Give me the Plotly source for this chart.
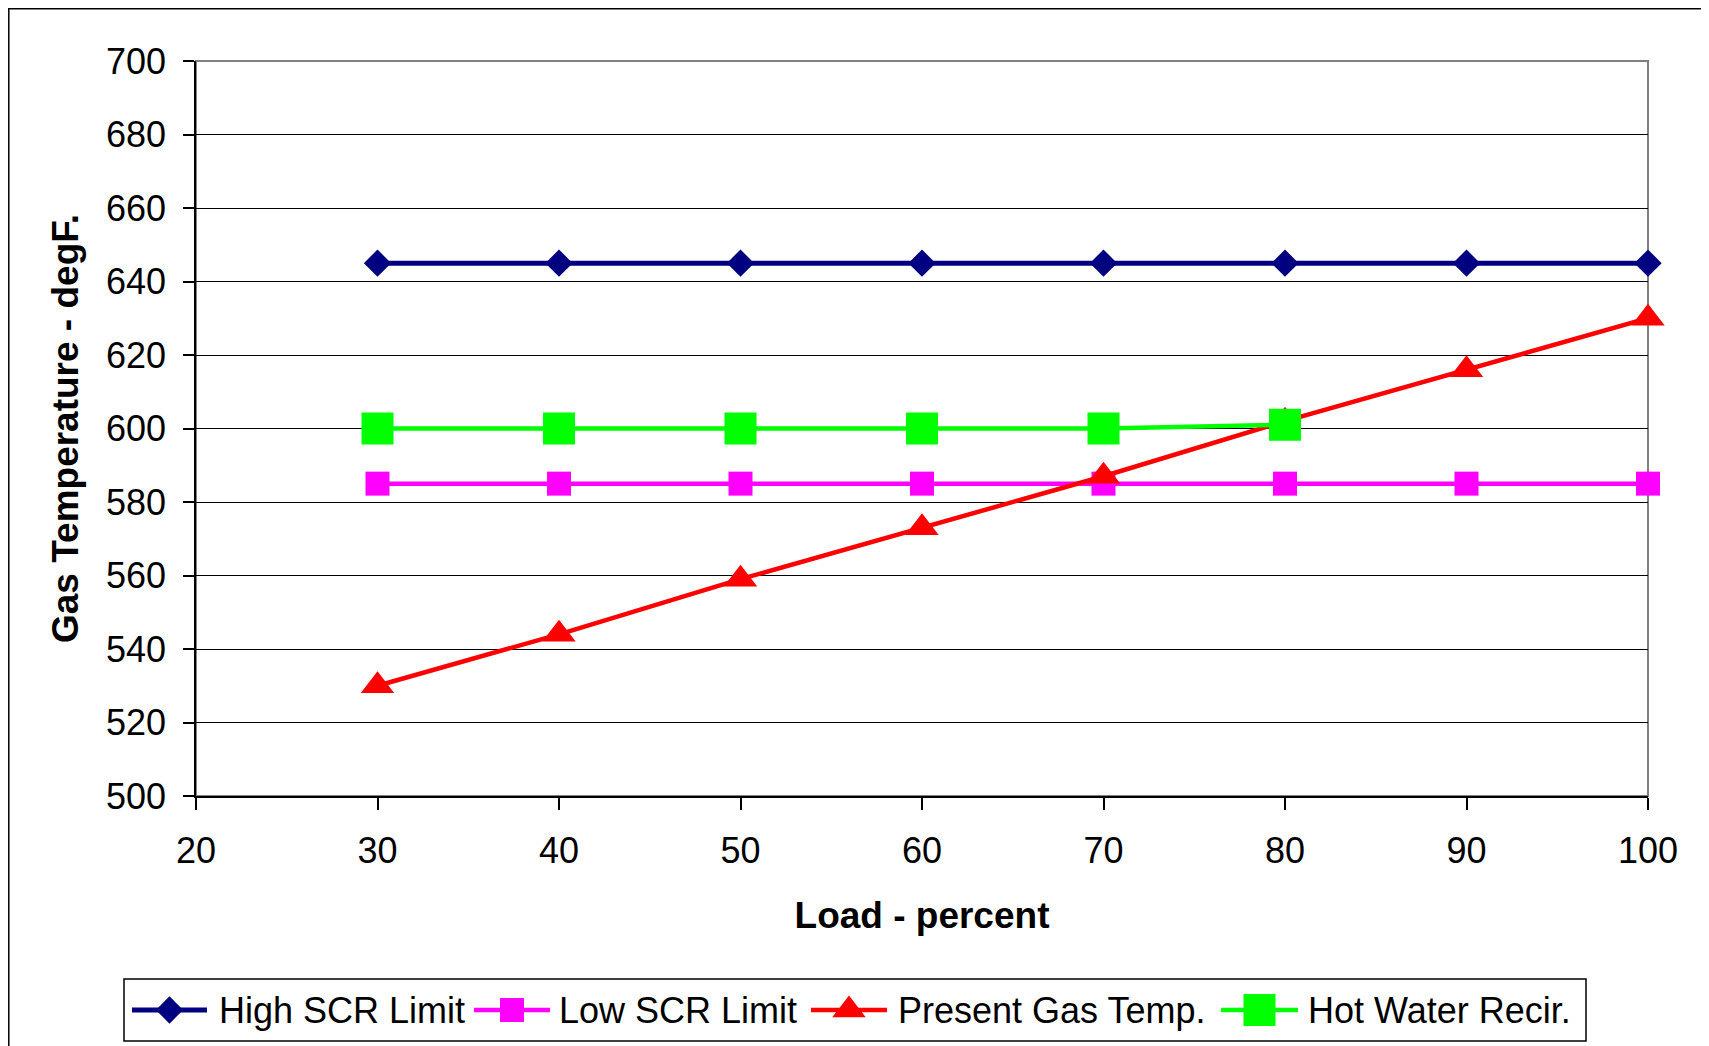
import plotly.graph_objects as go

load = [30, 40, 50, 60, 70, 80, 90, 100]
high_scr = [645, 645, 645, 645, 645, 645, 645, 645]
low_scr = [585, 585, 585, 585, 585, 585, 585, 585]
present_gas = [530, 544, 559, 573, 587, 602, 616, 630]
hw_load = [30, 40, 50, 60, 70, 80]
hot_water = [600, 600, 600, 600, 600, 601]

series_names = ["High SCR Limit", "Low SCR Limit", "Present Gas Temp.", "Hot Water Recir."]
x_ticks = [20, 30, 40, 50, 60, 70, 80, 90, 100]
y_ticks = [500, 520, 540, 560, 580, 600, 620, 640, 660, 680, 700]

FONT = "Liberation Sans, Arial, sans-serif"
W, H = 1701, 1038

styles = [
    dict(color="#000080", symbol="diamond", size=21, lw=5),
    dict(color="#FF00FF", symbol="square", size=24, lw=4.5),
    dict(color="#FF0000", symbol="triangle-up", size=29, lw=4.5),
    dict(color="#00FF00", symbol="square", size=32, lw=4.5),
]
xs = [load, load, load, hw_load]
ys = [high_scr, low_scr, present_gas, hot_water]

fig = go.Figure()
for name, st, x, y in zip(series_names, styles, xs, ys):
    fig.add_trace(go.Scatter(x=x, y=y, name=name, mode="lines+markers",
                             line=dict(color=st["color"], width=st["lw"]),
                             marker=dict(symbol=st["symbol"], size=st["size"], color=st["color"],
                                         opacity=1, line=dict(width=0)),
                             cliponaxis=False, showlegend=False))

# custom legend (drawn on a helper axis in figure pixels)
LEG_DOM = 0.1
leg_h = H * LEG_DOM
leg_y = H - 1002
sym_x = [(124, 199), (466, 542), (803, 879), (1213, 1290)]
txt_x = [209, 549, 888, 1298]
for name, st, (a, b), tx in zip(series_names, styles, sym_x, txt_x):
    fig.add_trace(go.Scatter(x=[a, (a + b) / 2, b], y=[leg_y] * 3, mode="lines+markers",
                             xaxis="x2", yaxis="y2", showlegend=False, hoverinfo="skip",
                             line=dict(color=st["color"], width=st["lw"]),
                             marker=dict(symbol=st["symbol"], size=[0, st["size"], 0],
                                         color=st["color"], opacity=1, line=dict(width=0)),
                             cliponaxis=False))
    fig.add_annotation(x=tx, y=leg_y, xref="x2", yref="y2", text=name, showarrow=False,
                       xanchor="left", yanchor="middle",
                       font=dict(family=FONT, size=36, color="black"))

# legend box
fig.add_shape(type="rect", xref="paper", yref="paper",
              x0=116 / W, x1=1578 / W, y0=1 - 1033 / H, y1=1 - 971 / H,
              line=dict(color="black", width=1.5), layer="below")
# outer chart border
fig.add_shape(type="rect", xref="paper", yref="paper",
              x0=0.8 / W, x1=1698 / W, y0=-0.05, y1=1 - 0.8 / H,
              line=dict(color="black", width=1.5), layer="below")

px0, px1, py0, py1 = 188, 1640, 53, 788
# plot area border
fig.add_shape(type="rect", xref="paper", yref="paper",
              x0=px0 / W, x1=px1 / W, y0=1 - py1 / H, y1=1 - py0 / H,
              line=dict(color="#808080", width=2), layer="below")

fig.update_layout(
    width=W, height=H,
    margin=dict(l=0, r=0, t=0, b=0, autoexpand=False),
    paper_bgcolor="white", plot_bgcolor="rgba(0,0,0,0)",
    font=dict(family=FONT, size=36, color="black"),
    showlegend=False,
    xaxis=dict(domain=[px0 / W, px1 / W], range=[20, 100], tickvals=x_ticks,
               ticktext=[str(v) for v in x_ticks], automargin=False,
               showgrid=False, zeroline=False, showline=True, linecolor="black", linewidth=1.5,
               ticks="outside", ticklen=12, tickcolor="black", tickwidth=1.5,
               ticklabelstandoff=10,
               tickfont=dict(family=FONT, size=36, color="black"),
               title=dict(text="<b>Load - percent</b>", standoff=32,
                          font=dict(family=FONT, size=37, color="black"))),
    yaxis=dict(domain=[1 - py1 / H, 1 - py0 / H], range=[500, 700], tickvals=y_ticks,
               ticktext=[str(v) for v in y_ticks], automargin=False,
               showgrid=True, gridcolor="black", gridwidth=1,
               zeroline=False, showline=True, linecolor="black", linewidth=1.5,
               ticks="outside", ticklen=11, tickcolor="black", tickwidth=1.5,
               ticklabelstandoff=10,
               tickfont=dict(family=FONT, size=36, color="black"),
               title=dict(text="<b>Gas Temperature - degF.</b>", standoff=16,
                          font=dict(family=FONT, size=37, color="black"))),
    xaxis2=dict(domain=[0, 1], range=[0, W], anchor="y2", visible=False, fixedrange=True),
    yaxis2=dict(domain=[0, LEG_DOM], range=[0, leg_h], anchor="x2", visible=False, fixedrange=True),
)

fig.write_html("out.html")
